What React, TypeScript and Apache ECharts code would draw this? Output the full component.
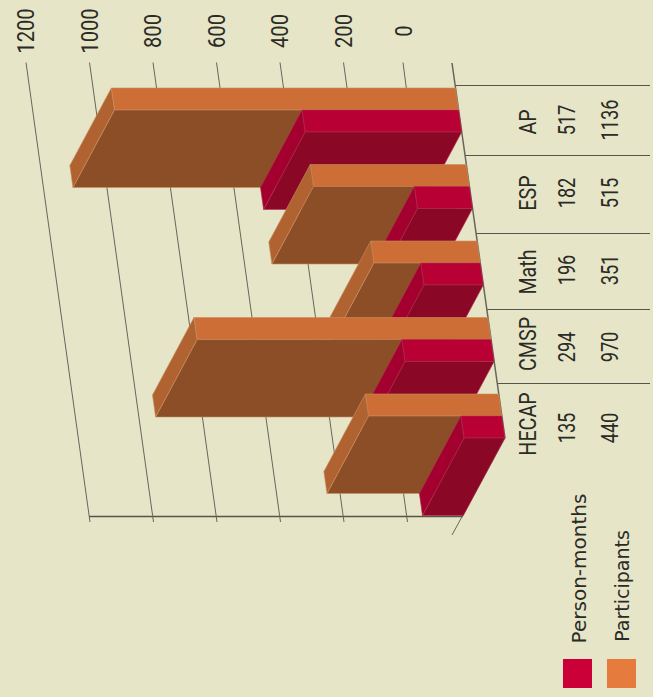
import React, { useEffect, useRef } from "react";
import * as echarts from "echarts";

const categories = ["AP", "ESP", "Math", "CMSP", "HECAP"];
const personMonths = [517, 182, 196, 294, 135];
const participants = [1136, 515, 351, 970, 440];
const ticks = [0, 200, 400, 600, 800, 1000, 1200];
const seriesNames = ["Person-months", "Participants"];

const BG = "#E6E5C8";
const INK = "#2b2b26";
const SLOPE = 0.141;
const Y_REF = 63;
const DEPTH = [-41.5, 77.5];
const STRIP = 22;
const FONT = "Roboto";

const sepY = [85, 155, 233, 309, 383];
const nameY = [122, 193, 272, 344, 424];
const numY = [120, 193, 270, 347, 428];

function vtext(text: string, x: number, y: number, size: number, sx: number, family = FONT, weight = 400) {
  return {
    type: "text",
    x,
    y,
    rotation: Math.PI / 2,
    scaleX: sx,
    silent: true,
    style: {
      text,
      fill: INK,
      font: `${weight} ${size}px "${family}"`,
      textAlign: "center",
      textVerticalAlign: "middle",
    },
  };
}

function renderBars(_: any, api: any) {
  const i = api.value(2);
  const centre = api.coord([0, i])[1];
  const poly = (points: number[][], fill: string, stroke: string) => ({
    type: "polygon",
    shape: { points },
    style: { fill, stroke, lineWidth: 0.6 },
  });
  const bar = (v: number, y0: number, colors: string[]) => {
    const y1 = y0 + STRIP;
    const pt = (val: number, y: number) => [api.coord([val, i])[0] + (y - Y_REF) * SLOPE, y];
    const push = (p: number[]) => [p[0] + DEPTH[0], p[1] + DEPTH[1]];
    const a = pt(v, y0), b = pt(0, y0), c = pt(0, y1), d = pt(v, y1);
    return [
      poly([a, b, c, d], colors[0], colors[3]),
      poly([d, c, push(c), push(d)], colors[2], colors[3]),
      poly([a, d, push(d), push(a)], colors[1], colors[3]),
    ];
  };
  return {
    type: "group",
    children: [
      ...bar(api.value(0), centre - STRIP, ["#CC6E35", "#B06330", "#8B4E27", "#C98E62"]),
      ...bar(api.value(1), centre, ["#B80034", "#A3002F", "#8A0826", "#B0304F"]),
    ],
  };
}

function renderGrid(_: any, api: any) {
  const v = api.value(0);
  const top = api.coord([v, 0]);
  const bottom = api.coord([v, 1]);
  const isZero = v === 0;
  const tx = top[0] - (isZero ? 4 : 0);
  const bx = bottom[0] + 64 - (isZero ? 9 : 0);
  const by = isZero ? 516 : bottom[1];
  const children: any[] = [
    {
      type: "line",
      shape: { x1: tx, y1: top[1], x2: bx, y2: by },
      style: { stroke: "#66665c", lineWidth: 1 },
    },
    {
      type: "text",
      x: isZero ? tx : tx - 0.5,
      y: 31,
      rotation: Math.PI / 2,
      scaleX: 0.84,
      style: {
        text: String(v),
        fill: INK,
        font: `400 24px "${FONT}"`,
        textAlign: "center",
        textVerticalAlign: "middle",
      },
    },
  ];
  return { type: "group", children };
}

export default function App() {
  const ref = useRef<HTMLDivElement>(null);
  useEffect(() => {
    const chart = echarts.init(ref.current!, null, { renderer: "svg" });
    const lineStyle = { stroke: "#55554c", lineWidth: 1 };
    const graphic: any[] = [
      { type: "line", shape: { x1: 89, y1: 516.5, x2: 463, y2: 516.5 }, style: { stroke: "#55554c", lineWidth: 1.6 }, z: 1 },
      { type: "line", shape: { x1: 452, y1: 63, x2: 505, y2: 438 }, style: { stroke: "#66665c", lineWidth: 1.5 }, z: 1 },
      { type: "line", shape: { x1: 505, y1: 438, x2: 452, y2: 535 }, style: { stroke: "#66665c", lineWidth: 1 }, z: 1 },
    ];
    sepY.forEach((y) => {
      graphic.push({
        type: "line",
        shape: { x1: 452 + (y - Y_REF) * SLOPE, y1: y + 0.5, x2: 650, y2: y + 0.5 },
        style: lineStyle,
      });
    });
    categories.forEach((c, i) => {
      graphic.push(vtext(c, 528, nameY[i], 24, 0.82));
      graphic.push(vtext(String(personMonths[i]), 567, numY[i], 24, 0.76));
      graphic.push(vtext(String(participants[i]), 610, numY[i], 24, 0.76));
    });
    graphic.push(vtext(seriesNames[0], 578.5, 568.5, 20, 1, "DejaVu Sans"));
    graphic.push(vtext(seriesNames[1], 621.5, 586, 19, 1, "DejaVu Sans"));
    graphic.push({ type: "rect", shape: { x: 563, y: 659, width: 29, height: 29 }, style: { fill: "#CC0039" } });
    graphic.push({ type: "rect", shape: { x: 607, y: 659, width: 29, height: 29 }, style: { fill: "#E57B3C" } });

    chart.setOption({
      animation: false,
      backgroundColor: BG,
      grid: [
        { left: 88.4, width: 363.6, top: 71.75, height: 382.5 },
        { left: 26, width: 381, top: 62.5, height: 459.5 },
      ],
      xAxis: [
        { type: "value", gridIndex: 0, min: 0, max: 1200, inverse: true, show: false },
        { type: "value", gridIndex: 1, min: 0, max: 1200, inverse: true, show: false },
      ],
      yAxis: [
        { type: "category", gridIndex: 0, data: categories, inverse: true, show: false },
        { type: "value", gridIndex: 1, min: 0, max: 1, inverse: true, show: false },
      ],
      graphic,
      series: [
        {
          type: "custom",
          name: "grid",
          xAxisIndex: 1,
          yAxisIndex: 1,
          z: 1,
          clip: false,
          renderItem: renderGrid,
          encode: { x: 0, y: 1 },
          data: ticks.map((t) => [t, 0]),
          silent: true,
        },
        {
          type: "custom",
          name: "bars",
          xAxisIndex: 0,
          yAxisIndex: 0,
          z: 3,
          clip: false,
          renderItem: renderBars,
          encode: { x: [0, 1], y: 2 },
          data: categories.map((_, i) => [participants[i], personMonths[i], i]),
          silent: true,
        },
      ],
    });
    return () => chart.dispose();
  }, []);
  return <div ref={ref} style={{ position: "fixed", left: 0, top: 0, width: 653, height: 697 }} />;
}
